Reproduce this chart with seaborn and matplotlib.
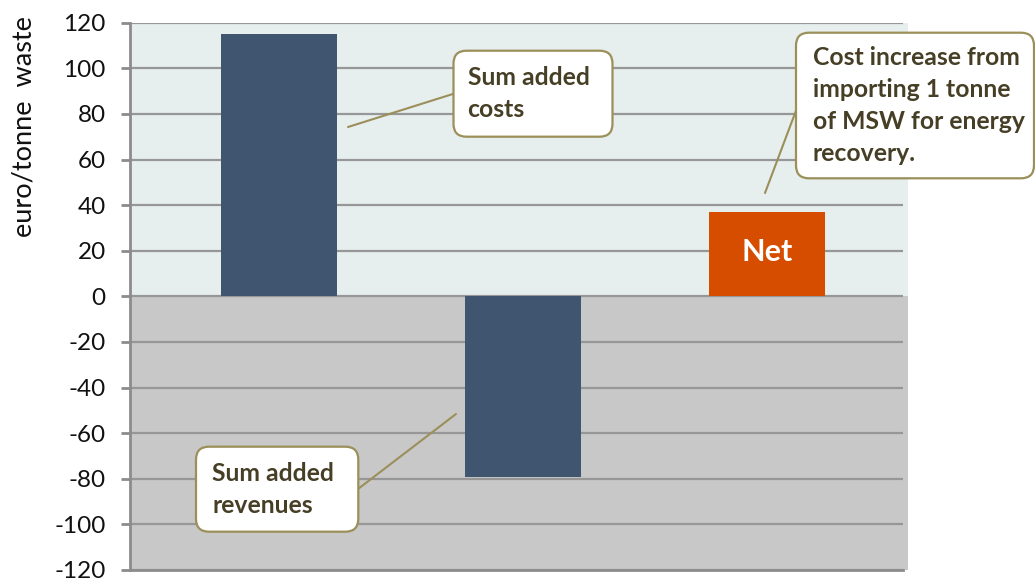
import matplotlib
matplotlib.use("Agg")
import matplotlib.pyplot as plt
import seaborn as sns
from matplotlib.patches import FancyBboxPatch, Rectangle
from matplotlib.lines import Line2D
from matplotlib.transforms import IdentityTransform

# ---- data ----
categories = ["Sum added costs", "Sum added revenues", "Net"]
values = [115, -79, 37]
bar_colors = ["#3f5570", "#3f5570", "#d64d00"]
yticks = [-120, -100, -80, -60, -40, -20, 0, 20, 40, 60, 80, 100, 120]
ylabel = "euro/tonne  waste"
callout_costs = "Sum added\ncosts"
callout_revenues = "Sum added\nrevenues"
callout_net = "Cost increase from\nimporting 1 tonne\nof MSW for energy\nrecovery."
net_label = "Net"

sns.set_theme(style="white")
plt.rcParams["font.family"] = ["Lato", "DejaVu Sans"]

W, H = 1035, 581
fig = plt.figure(figsize=(W / 100, H / 100), dpi=100)
L, R, T, B = 130, 903, 22.7, 570
ax = fig.add_axes([L / W, 1 - B / H, (R - L) / W, (B - T) / H])

upper_bg = "#e6efee"
lower_bg = "#c8c8c8"
ax.add_patch(Rectangle((0, 0), (908 - L) / (R - L), 120, transform=ax.get_yaxis_transform(),
                       facecolor=upper_bg, edgecolor="none", zorder=0, clip_on=False))
ax.add_patch(Rectangle((0, -120), (908 - L) / (R - L), 120, transform=ax.get_yaxis_transform(),
                       facecolor=lower_bg, edgecolor="none", zorder=0, clip_on=False))

sns.barplot(x=categories, y=values, hue=categories, palette=bar_colors, legend=False,
            width=0.475, saturation=1, ax=ax, zorder=2, linewidth=0, edgecolor="none")

ax.set_ylim(-120, 120)
ax.set_xlim(-0.61, 2.555)
ax.set_yticks(yticks)
ax.set_yticklabels([str(v) for v in yticks], fontsize=17.5, color="#111111")
ax.set_xticks([])
ax.set_xlabel("")
ax.set_ylabel("")
ax.set_facecolor("none")
ax.set_axisbelow(True)
ax.yaxis.grid(True, color="#979797", linewidth=1.6)
ax.tick_params(axis="y", length=6.5, width=2, color="#8c8c8c", pad=11, left=True)
for s in ["top", "right"]:
    ax.spines[s].set_visible(False)
for s in ["left", "bottom"]:
    ax.spines[s].set_color("#8c8c8c")
    ax.spines[s].set_linewidth(2)
    ax.spines[s].set_zorder(3)

# Net label inside bar
ax.text(2, values[2] * 0.55, net_label, ha="center", va="center_baseline", color="white",
        fontsize=22, fontweight="bold", zorder=4)

fig.text(24 / W, 1 - 127 / H, ylabel, rotation=90, ha="center", va="center",
         fontsize=19.5, color="#111111")

# ---- callouts (pixel coordinates, y from top) ----
olive = "#9b8f5a"
txtc = "#463f26"
ident = IdentityTransform()


def box(x0, y0, x1, y1, text, pad):
    p = FancyBboxPatch((x0, H - y1), x1 - x0, y1 - y0,
                       boxstyle="round,pad=0,rounding_size=13", transform=ident,
                       facecolor="white", edgecolor=olive, linewidth=1.6, zorder=10)
    fig.add_artist(p)
    fig.text((x0 + pad) / W, 1 - (y0 + y1) / 2 / H, text, ha="left", va="center",
             fontsize=17.8, fontweight="bold", color=txtc, linespacing=1.48, zorder=11)


def line(x0, y0, x1, y1):
    fig.add_artist(Line2D([x0 / W, x1 / W], [1 - y0 / H, 1 - y1 / H], transform=fig.transFigure,
                          color=olive, linewidth=1.5, zorder=9))


line(348, 127, 456, 93)
line(456, 414, 358, 489)
line(765, 193, 800, 100)
box(453.5, 50.7, 612.5, 136.7, callout_costs, 14)
box(196, 446.7, 358.3, 531.7, callout_revenues, 16)
box(796, 32.7, 1034, 178.3, callout_net, 17)

fig.savefig("out.png", dpi=100)
